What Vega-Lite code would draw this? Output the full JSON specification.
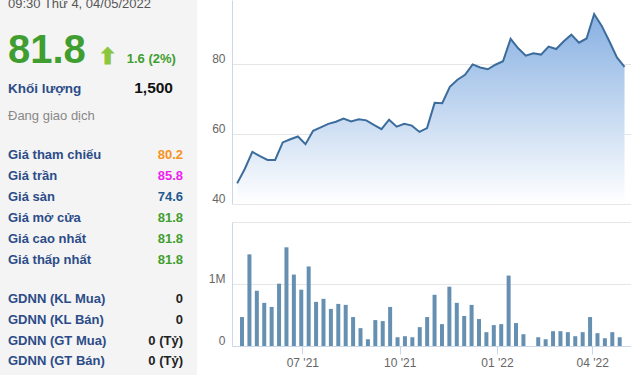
{
  "$schema": "https://vega.github.io/schema/vega-lite/v6.json",
  "padding": 0,
  "background": "white",
  "spacing": 11,
  "config": {
    "font": "Liberation Sans",
    "view": {"stroke": null},
    "axis": {"labelFont": "Liberation Sans", "labelColor": "#666666", "labelFontSize": 12, "title": null}
  },
  "datasets": {
    "header": [
      {"role": "time", "line": "l0", "side": "label", "text": "09:30 Thứ 4, 04/05/2022"},
      {"role": "price", "line": "l1", "side": "label", "text": "81.8"},
      {"role": "arrow", "line": "l1", "side": "label", "text": "⬆"},
      {"role": "change", "line": "l1", "side": "label", "text": "1.6 (2%)"},
      {"role": "vol_label", "line": "l2", "side": "label", "text": "Khối lượng"},
      {"role": "vol_value", "line": "l2", "side": "value", "text": "1,500"},
      {"role": "status", "line": "l3", "side": "label", "text": "Đang giao dịch"}
    ],
    "prices": [
      {"label": "Giá tham chiếu", "value": 80.2, "kind": "ref"},
      {"label": "Giá trần", "value": 85.8, "kind": "ceil"},
      {"label": "Giá sàn", "value": 74.6, "kind": "floor"},
      {"label": "Giá mở cửa", "value": 81.8, "kind": "up"},
      {"label": "Giá cao nhất", "value": 81.8, "kind": "up"},
      {"label": "Giá thấp nhất", "value": 81.8, "kind": "up"}
    ],
    "foreign": [
      {"label": "GDNN (KL Mua)", "value": "0"},
      {"label": "GDNN (KL Bán)", "value": "0"},
      {"label": "GDNN (GT Mua)", "value": "0 (Tỷ)"},
      {"label": "GDNN (GT Bán)", "value": "0 (Tỷ)"}
    ],
    "weekly": [
      {"week": "2021-05-05T00:00", "close": 45.9, "volume": 467000},
      {"week": "2021-05-12T00:00", "close": 50.0, "volume": 1478000},
      {"week": "2021-05-19T00:00", "close": 54.9, "volume": 891000},
      {"week": "2021-05-26T00:00", "close": 53.7, "volume": 696000},
      {"week": "2021-06-02T00:00", "close": 52.6, "volume": 630000},
      {"week": "2021-06-09T00:00", "close": 52.6, "volume": 1005000},
      {"week": "2021-06-16T00:00", "close": 57.6, "volume": 1592000},
      {"week": "2021-06-23T00:00", "close": 58.5, "volume": 1152000},
      {"week": "2021-06-30T00:00", "close": 59.3, "volume": 908000},
      {"week": "2021-07-07T00:00", "close": 57.1, "volume": 1283000},
      {"week": "2021-07-14T00:00", "close": 60.9, "volume": 712000},
      {"week": "2021-07-21T00:00", "close": 61.9, "volume": 761000},
      {"week": "2021-07-28T00:00", "close": 62.9, "volume": 598000},
      {"week": "2021-08-04T00:00", "close": 63.5, "volume": 679000},
      {"week": "2021-08-11T00:00", "close": 64.4, "volume": 663000},
      {"week": "2021-08-18T00:00", "close": 63.6, "volume": 467000},
      {"week": "2021-08-25T00:00", "close": 64.2, "volume": 288000},
      {"week": "2021-09-01T00:00", "close": 63.9, "volume": 109000},
      {"week": "2021-09-08T00:00", "close": 62.6, "volume": 418000},
      {"week": "2021-09-15T00:00", "close": 61.4, "volume": 402000},
      {"week": "2021-09-22T00:00", "close": 64.1, "volume": 630000},
      {"week": "2021-09-29T00:00", "close": 62.1, "volume": 141000},
      {"week": "2021-10-06T00:00", "close": 62.9, "volume": 158000},
      {"week": "2021-10-13T00:00", "close": 62.4, "volume": 141000},
      {"week": "2021-10-20T00:00", "close": 60.6, "volume": 304000},
      {"week": "2021-10-27T00:00", "close": 61.7, "volume": 467000},
      {"week": "2021-11-03T00:00", "close": 68.9, "volume": 826000},
      {"week": "2021-11-10T00:00", "close": 68.8, "volume": 353000},
      {"week": "2021-11-17T00:00", "close": 73.5, "volume": 957000},
      {"week": "2021-11-24T00:00", "close": 75.5, "volume": 696000},
      {"week": "2021-12-01T00:00", "close": 76.9, "volume": 484000},
      {"week": "2021-12-08T00:00", "close": 79.9, "volume": 663000},
      {"week": "2021-12-15T00:00", "close": 79.0, "volume": 435000},
      {"week": "2021-12-22T00:00", "close": 78.5, "volume": 223000},
      {"week": "2021-12-29T00:00", "close": 79.8, "volume": 337000},
      {"week": "2022-01-05T00:00", "close": 80.8, "volume": 353000},
      {"week": "2022-01-12T00:00", "close": 87.2, "volume": 1136000},
      {"week": "2022-01-19T00:00", "close": 84.5, "volume": 370000},
      {"week": "2022-01-26T00:00", "close": 82.4, "volume": 190000},
      {"week": "2022-02-02T00:00", "close": 83.1, "volume": null},
      {"week": "2022-02-09T00:00", "close": 82.7, "volume": 141000},
      {"week": "2022-02-16T00:00", "close": 85.0, "volume": 109000},
      {"week": "2022-02-23T00:00", "close": 84.3, "volume": 239000},
      {"week": "2022-03-02T00:00", "close": 86.5, "volume": 239000},
      {"week": "2022-03-09T00:00", "close": 88.4, "volume": 223000},
      {"week": "2022-03-16T00:00", "close": 86.1, "volume": 158000},
      {"week": "2022-03-23T00:00", "close": 87.3, "volume": 223000},
      {"week": "2022-03-30T00:00", "close": 94.3, "volume": 467000},
      {"week": "2022-04-06T00:00", "close": 90.9, "volume": 207000},
      {"week": "2022-04-13T00:00", "close": 86.5, "volume": 125000},
      {"week": "2022-04-20T00:00", "close": 81.9, "volume": 223000},
      {"week": "2022-04-27T00:00", "close": 79.2, "volume": 141000}
    ]
  },
  "hconcat": [
    {
      "spacing": 0,
      "bounds": "flush",
      "vconcat": [
        {
          "width": 197,
          "height": 134,
          "view": {"fill": "#f4f4f4", "stroke": null},
          "data": {"name": "header"},
          "encoding": {
            "x": {"field": "side", "type": "nominal", "scale": {"type": "point", "domain": ["label", "value"], "range": [8, 183], "padding": 0}, "axis": {"title": null, "labels": false, "ticks": false, "grid": false, "domain": true, "domainColor": "#e2e2e2"}},
            "y": {"field": "line", "type": "nominal", "scale": {"type": "point", "domain": ["l0", "l1", "l2", "l3"], "padding": 0.5}, "axis": null},
            "text": {"field": "text"}
          },
          "layer": [
            {"transform": [{"filter": "datum.role === 'time'"}], "mark": {"type": "text", "align": "left", "baseline": "alphabetic", "fontSize": 13, "color": "#555555", "dy": -8.75, "clip": true}},
            {"transform": [{"filter": "datum.role === 'price'"}], "mark": {"type": "text", "align": "left", "baseline": "alphabetic", "fontSize": 40, "fontWeight": "bold", "color": "#3f9e2f", "dy": 12.75}},
            {"transform": [{"filter": "datum.role === 'arrow'"}], "mark": {"type": "text", "align": "center", "baseline": "alphabetic", "font": "DejaVu Sans", "fontSize": 22, "color": "#8cc63f", "stroke": "#8cc63f", "strokeWidth": 1.2, "dx": 99.5, "dy": 14}},
            {"transform": [{"filter": "datum.role === 'change'"}], "mark": {"type": "text", "align": "left", "baseline": "alphabetic", "fontSize": 13, "fontWeight": "bold", "color": "#3f9e2f", "dx": 118.7, "dy": 12.75}},
            {"transform": [{"filter": "datum.role === 'vol_label'"}], "mark": {"type": "text", "align": "left", "baseline": "alphabetic", "fontSize": 13.5, "fontWeight": "bold", "color": "#2c4c88", "dy": 9.25}},
            {"transform": [{"filter": "datum.role === 'vol_value'"}], "mark": {"type": "text", "align": "right", "baseline": "alphabetic", "fontSize": 15.5, "fontWeight": "bold", "color": "#111111", "dx": -10, "dy": 9.25}},
            {"transform": [{"filter": "datum.role === 'status'"}], "mark": {"type": "text", "align": "left", "baseline": "alphabetic", "fontSize": 13, "color": "#888888", "dy": 2.75}}
          ]
        },
        {
          "width": 197,
          "height": 147,
          "view": {"fill": "#f4f4f4", "stroke": null},
          "data": {"name": "prices"},
          "encoding": {
            "y": {"field": "label", "type": "nominal", "sort": null, "scale": {"type": "point", "padding": 1}, "axis": null}
          },
          "layer": [
            {
              "mark": {"type": "text", "align": "left", "baseline": "alphabetic", "fontSize": 13, "fontWeight": "bold", "color": "#2c4c88", "dy": 4.2},
              "encoding": {
                "x": {"datum": "label", "type": "nominal", "scale": {"type": "point", "domain": ["label", "value"], "range": [8, 183], "padding": 0}, "axis": {"title": null, "labels": false, "ticks": false, "grid": false, "domain": true, "domainColor": "#e2e2e2"}},
                "text": {"field": "label"}
              }
            },
            {
              "mark": {"type": "text", "align": "right", "baseline": "alphabetic", "fontSize": 13, "fontWeight": "bold", "dy": 4.2},
              "encoding": {
                "x": {"datum": "value", "type": "nominal", "axis": {"title": null, "labels": false, "ticks": false, "grid": false, "domain": true, "domainColor": "#e2e2e2"}},
                "text": {"field": "value", "format": ".1f"},
                "color": {"field": "kind", "type": "nominal", "scale": {"domain": ["ref", "ceil", "floor", "up"], "range": ["#f7931e", "#ee22ee", "#1f5a90", "#3f9e2f"]}, "legend": null}
              }
            }
          ]
        },
        {
          "width": 197,
          "height": 94,
          "view": {"fill": "#f4f4f4", "stroke": null},
          "data": {"name": "foreign"},
          "encoding": {
            "y": {"field": "label", "type": "nominal", "sort": null, "scale": {"type": "point", "padding": 0.75}, "axis": null}
          },
          "layer": [
            {
              "mark": {"type": "text", "align": "left", "baseline": "alphabetic", "fontSize": 13, "fontWeight": "bold", "color": "#2c4c88", "dy": 6.1},
              "encoding": {
                "x": {"datum": "label", "type": "nominal", "scale": {"type": "point", "domain": ["label", "value"], "range": [8, 183], "padding": 0}, "axis": null},
                "text": {"field": "label"}
              }
            },
            {
              "mark": {"type": "text", "align": "right", "baseline": "alphabetic", "fontSize": 13, "fontWeight": "bold", "color": "#222222", "dy": 6.1},
              "encoding": {
                "x": {"datum": "value", "type": "nominal", "axis": null},
                "text": {"field": "value"}
              }
            }
          ]
        }
      ]
    },
    {
      "spacing": 18,
      "bounds": "flush",
      "vconcat": [
        {
          "width": 399,
          "height": 204,
          "data": {"name": "weekly"},
          "encoding": {
            "x": {"field": "week", "type": "temporal", "scale": {"domain": [{"year": 2021, "month": 4, "date": 30, "hours": 6}, {"year": 2022, "month": 5, "date": 2, "hours": 23}]}, "axis": null},
            "y": {"field": "close", "type": "quantitative", "scale": {"domain": [40, 98.3], "nice": false, "zero": false}, "axis": {"values": [40, 60, 80], "grid": true, "gridColor": "#e6e6e6", "domain": true, "domainColor": "#ccd6eb", "ticks": false, "labelBaseline": "alphabetic", "labelOffset": -1.5, "labelPadding": 7}}
          },
          "layer": [
            {
              "mark": {"type": "area", "clip": true, "opacity": 1, "color": {"gradient": "linear", "x1": 0, "y1": 1, "x2": 0, "y2": 0, "stops": [{"offset": 0, "color": "#ffffff"}, {"offset": 1, "color": "#87b0e2"}]}},
              "encoding": {"y2": {"datum": 40}}
            },
            {
              "mark": {"type": "line", "clip": true, "color": "#3c6c9c", "strokeWidth": 2}
            }
          ]
        },
        {
          "width": 399,
          "height": 124,
          "data": {"name": "weekly"},
          "mark": {"type": "bar", "width": 4, "color": "#6690b1"},
          "encoding": {
            "x": {"field": "week", "type": "temporal", "scale": {"domain": [{"year": 2021, "month": 4, "date": 30, "hours": 6}, {"year": 2022, "month": 5, "date": 2, "hours": 23}]}, "axis": {"values": [{"year": 2021, "month": 7, "date": 1}, {"year": 2021, "month": 10, "date": 1}, {"year": 2022, "month": 1, "date": 1}, {"year": 2022, "month": 4, "date": 1}], "format": "%m '%y", "grid": false, "domainColor": "#ccd6eb", "tickColor": "#ccd6eb", "tickSize": 8, "labelPadding": 3, "labelFlush": false, "labelOverlap": false}},
            "y": {"field": "volume", "type": "quantitative", "scale": {"domain": [0, 2000000], "nice": false}, "axis": {"values": [0, 1000000, 2000000], "labelExpr": "datum.value >= 2000000 ? '' : (datum.value == 0 ? '0' : '1M')", "grid": true, "gridColor": "#e6e6e6", "domain": true, "domainColor": "#ccd6eb", "ticks": false, "labelBaseline": "alphabetic", "labelOffset": -1.5, "labelPadding": 7}}
          }
        }
      ]
    }
  ]
}
